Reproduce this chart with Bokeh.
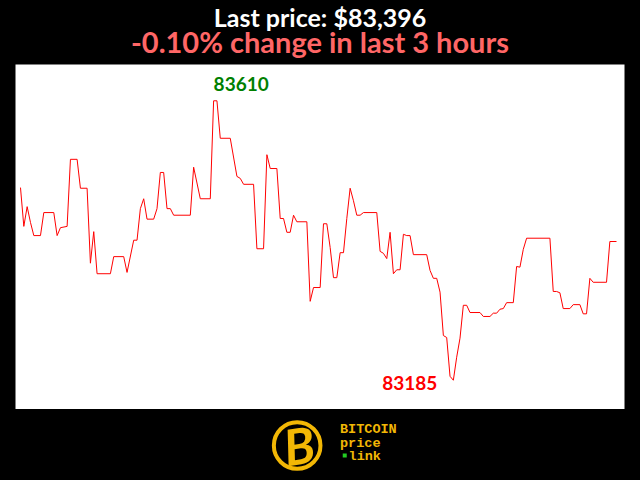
from bokeh.plotting import figure
from bokeh.models import Range1d, ColumnDataSource
from bokeh.layouts import column
from bokeh.embed import file_html
from bokeh.resources import INLINE
from bokeh.core.properties import value

# minute index within the last 3 hours and BTC price (USD)
minutes = [0, 1, 2, 3, 4, 6, 7, 10, 11, 12, 14, 15, 17, 18, 20, 21, 22, 23, 27, 28,
           31, 32, 34, 35, 36, 37, 38, 40, 41, 42, 43, 44, 45, 46, 51, 52, 54, 57, 58, 59,
           60, 63, 65, 66, 67, 70, 71, 73, 74, 75, 77, 78, 79, 80, 81, 82, 83, 86, 87, 88,
           90, 91, 92, 93, 94, 95, 96, 97, 98, 99, 100, 101, 102, 103, 107, 108, 109, 110, 111, 112,
           113, 114, 115, 116, 117, 118, 122, 123, 124, 125, 126, 127, 128, 129, 130, 131, 132, 133, 134, 135,
           138, 139, 141, 142, 143, 144, 145, 146, 148, 149, 150, 151, 152, 159, 160, 161, 162, 163, 165, 166,
           168, 169, 170, 171, 172, 176, 177, 179]
prices = [83478, 83419, 83449, 83425, 83405, 83405, 83440, 83440, 83405, 83417, 83419, 83521, 83521, 83477, 83477, 83363, 83411, 83347, 83347, 83373,
          83373, 83349, 83398, 83398, 83446, 83461, 83430, 83430, 83446, 83501, 83501, 83446, 83446, 83436, 83436, 83509, 83461, 83461, 83610, 83610,
          83553, 83553, 83495, 83492, 83483, 83483, 83385, 83385, 83528, 83507, 83507, 83431, 83431, 83410, 83410, 83436, 83426, 83426, 83305, 83326,
          83326, 83423, 83423, 83387, 83341, 83341, 83379, 83379, 83431, 83477, 83458, 83436, 83436, 83440, 83440, 83381, 83378, 83370, 83410, 83347,
          83353, 83353, 83407, 83405, 83405, 83376, 83376, 83352, 83340, 83340, 83319, 83253, 83250, 83191, 83185, 83220, 83249, 83299, 83299, 83288,
          83288, 83282, 83282, 83287, 83287, 83293, 83294, 83303, 83303, 83358, 83357, 83384, 83401, 83401, 83320, 83320, 83318, 83294, 83294, 83300,
          83300, 83286, 83286, 83340, 83334, 83334, 83396, 83396]

last_price = prices[-1]
first_price = prices[0]
change_pct = (last_price - first_price) / first_price * 100
title_text = f"Last price: ${last_price:,}"
subtitle_text = f"{change_pct:.2f}% change in last 3 hours"
logo_words = ["BITCOIN", "price", "link"]

i_max = prices.index(max(prices))
i_min = prices.index(min(prices))

GOLD = "#f2b705"
W = 640


def blank(h):
    f = figure(width=W, height=h, output_backend="svg", toolbar_location=None,
               title=None, x_range=Range1d(0, W), y_range=Range1d(0, h),
               x_axis_location=None, y_axis_location=None, min_border=0,
               background_fill_color="black", border_fill_color="black",
               outline_line_color=None)
    f.grid.visible = False
    return f


# header with the two title lines
header = blank(64)
header.text(x=[320], y=[48], text=[title_text], text_color="white",
            text_font=value("Lato"), text_font_style="bold", text_font_size="25px",
            text_align="center", text_baseline="alphabetic")
header.text(x=[320], y=[23], text=[subtitle_text], text_color="#ff6666",
            text_font=value("Lato"), text_font_style="bold", text_font_size="29px",
            text_align="center", text_baseline="alphabetic")

# main chart
p = figure(width=W, height=345, output_backend="svg", toolbar_location=None,
           title=None,
           x_range=Range1d(-1.5, 181.4), y_range=Range1d(83140.5, 83665.2),
           x_axis_location=None, y_axis_location=None,
           min_border_left=15, min_border_right=16, min_border_top=0, min_border_bottom=0,
           background_fill_color="white", border_fill_color="black",
           outline_line_color=None)
p.grid.visible = False

src = ColumnDataSource(dict(x=minutes, y=prices))
p.line("x", "y", source=src, line_color="#ff0000", line_width=1)

max_src = ColumnDataSource(dict(x=[minutes[i_max]], y=[prices[i_max]], t=[str(prices[i_max])]))
min_src = ColumnDataSource(dict(x=[minutes[i_min]], y=[prices[i_min]], t=[str(prices[i_min])]))
p.text("x", "y", text="t", source=max_src, text_color="#008000",
       text_font=value("Lato"), text_font_style="bold", text_font_size="19px",
       text_align="left", text_baseline="alphabetic", y_offset=-17)
p.text("x", "y", text="t", source=min_src, text_color="#ff0000",
       text_font=value("Lato"), text_font_style="bold", text_font_size="19px",
       text_align="right", text_baseline="alphabetic", x_offset=-16, y_offset=3)

# logo strip
logo = blank(71)
logo.circle(x=[296], y=[35], radius=24.5, fill_color="black", line_color=GOLD, line_width=4)
logo.text(x=[298], y=[35], text=["B"], text_color=GOLD, text_font=value("Lato"),
          text_font_style="bold italic", text_font_size="50px",
          text_align="center", text_baseline="middle", angle=0.15)
logo.text(x=[341, 341, 350], y=[51, 37, 24], text=logo_words,
          text_color=GOLD, text_font=value("Liberation Mono"), text_font_style="bold",
          text_font_size="13.5px", text_align="left", text_baseline="alphabetic")
logo.scatter(x=[346], y=[25], marker="square", size=4, fill_color="#22cc22", line_color=None)

layout = column(header, p, logo, spacing=0)

html = file_html(layout, INLINE, title="Bitcoin price")
html = html.replace("</head>", "<style>html, body {background-color: #000000;}</style></head>", 1)
open("out.html", "w").write(html)
